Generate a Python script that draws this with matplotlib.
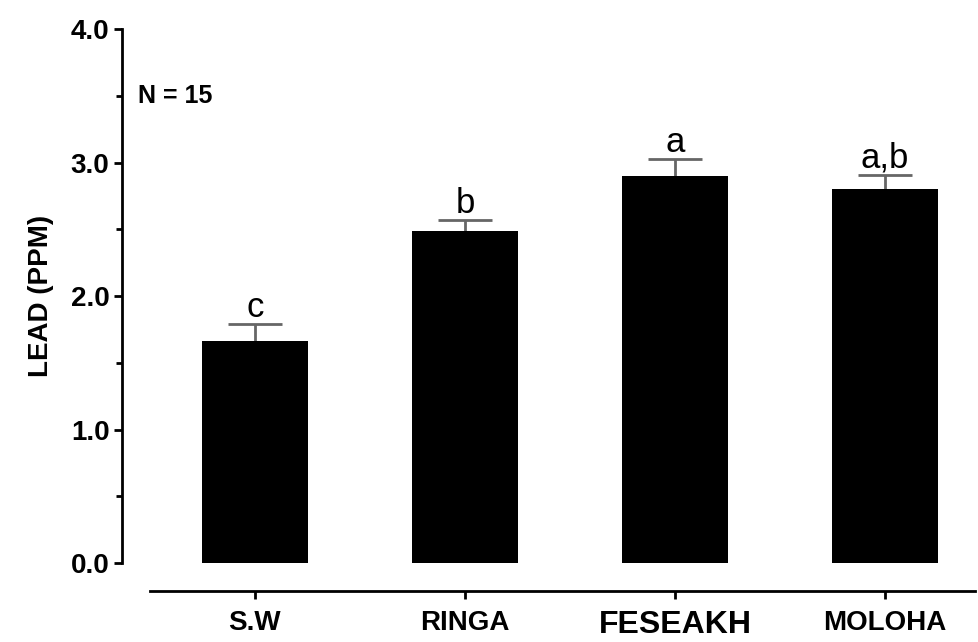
import numpy as np
import matplotlib.pyplot as plt

# data
sites = ['S.W', 'RINGA', 'FESEAKH', 'MOLOHA']
lead = [1.66, 2.49, 2.90, 2.80]       # mean lead (ppm)
sem = [0.13, 0.08, 0.13, 0.11]        # upper error bar
groups = ['c', 'b', 'a', 'a,b']       # significance letters

plt.rcParams['font.family'] = ['Liberation Sans', 'DejaVu Sans']

fig = plt.figure(figsize=(9.79, 6.42), dpi=100)
ax = fig.add_axes([0.1246, 0.1231, 0.8713, 0.8313])

x = np.arange(len(sites))
ax.bar(x, lead, width=0.505, color='black', zorder=2)
eb = ax.errorbar(x, lead, yerr=[np.zeros(len(sem)), sem], fmt='none',
                 ecolor='#666666', elinewidth=2, capsize=19.5, capthick=2, zorder=1)
eb[1][0].set_visible(False)   # no cap at the bar top

for xi, m, e, g in zip(x, lead, sem, groups):
    ax.annotate(g, (xi, m + e), xytext=(0, 5), textcoords='offset points',
                ha='center', va='baseline', fontsize=25)

ax.text(-0.557, 3.5, 'N = 15', fontsize=18, fontweight='bold', va='center')

for s in ['top', 'right']:
    ax.spines[s].set_visible(False)
ax.spines['left'].set_linewidth(2)
ax.spines['bottom'].set_linewidth(2)
ax.spines['bottom'].set_position(('outward', 20))
ax.spines['bottom'].set_bounds(-0.5, 3.4286)
ax.tick_params(axis='y', which='major', length=6, width=2, pad=3)
ax.tick_params(axis='y', which='minor', length=4, width=2)
ax.tick_params(axis='x', length=6, width=2, pad=8)

ax.set_xlim(-0.633, 3.4286)
ax.set_ylim(0, 4)
ax.set_yticks([0, 1, 2, 3, 4])
ax.set_yticklabels(['0.0', '1.0', '2.0', '3.0', '4.0'])
ax.set_yticks(np.arange(0.5, 4, 1), minor=True)
ax.set_xticks(x)
ax.set_xticklabels(sites)
for lab in ax.get_yticklabels():
    lab.set_fontsize(20)
    lab.set_fontweight('bold')
for i, lab in enumerate(ax.get_xticklabels()):
    lab.set_fontsize(23 if sites[i] == 'FESEAKH' else 20)
    lab.set_fontweight('bold')
ax.set_ylabel('LEAD (PPM)', fontsize=20, fontweight='bold', labelpad=12)

fig.savefig('out.png', dpi=100)
